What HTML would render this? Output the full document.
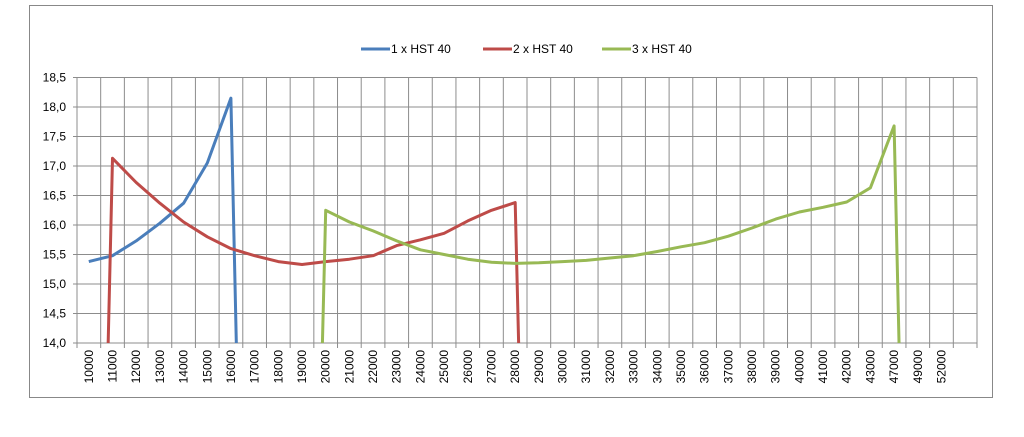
<!DOCTYPE html>
<html><head><meta charset="utf-8"><style>
html,body{margin:0;padding:0;background:#fff;width:1024px;height:437px;overflow:hidden;font-family:"Liberation Sans",sans-serif}
svg{display:block;overflow:hidden}
svg text{font-family:"Liberation Sans",sans-serif;font-size:12px;fill:#000}
</style></head><body>
<svg width="1024" height="437">
<rect x="29.5" y="5.5" width="963" height="392" fill="#fff" stroke="#888"/>
<g id="grid"></g>
<g id="series"></g>
<g id="axes"></g>
<g id="legend"></g>
</svg>
<script>
const categories=["10000","11000","12000","13000","14000","15000","16000","17000","18000","19000","20000","21000","22000","23000","24000","25000","26000","27000","28000","29000","30000","31000","32000","33000","34000","35000","36000","37000","38000","39000","40000","41000","42000","43000","47000","49000","52000",""];
const seriesNames=["1 x HST 40","2 x HST 40","3 x HST 40"];
const seriesColors=["#4a7ebb","#be4b48","#98b954"];
const blue=[15.38,15.48,15.73,16.03,16.37,17.05,18.15,0];
const red=[0,17.13,16.72,16.37,16.05,15.8,15.6,15.48,15.38,15.33,15.38,15.42,15.48,15.65,15.75,15.86,16.07,16.25,16.38,0];
const green=[null,null,null,null,null,null,null,null,null,0,16.25,16.05,15.9,15.73,15.58,15.5,15.42,15.37,15.35,15.36,15.38,15.4,15.44,15.48,15.55,15.63,15.7,15.81,15.95,16.1,16.22,16.3,16.39,16.63,17.68,0];
const yTicks=[14.0,14.5,15.0,15.5,16.0,16.5,17.0,17.5,18.0,18.5];
const NS="http://www.w3.org/2000/svg";
const L=77,R=977,T=77.5,B=343,yMin=14,yMax=18.5;
const cw=(R-L)/categories.length;
const xPos=i=>L+(i+0.5)*cw;
const yPos=v=>B-(v-yMin)/(yMax-yMin)*(B-T);
function mk(tag,attrs,parent){const e=document.createElementNS(NS,tag);for(const k in attrs)e.setAttribute(k,attrs[k]);parent.appendChild(e);return e;}
const grid=document.getElementById('grid'),axes=document.getElementById('axes'),ser=document.getElementById('series'),leg=document.getElementById('legend');
for(let i=0;i<=categories.length;i++){const x=L+i*cw;const l=mk('line',{x1:x,x2:x,y1:T,y2:B+5,stroke:'#8c8c8c','stroke-width':1},grid);

}
yTicks.forEach(v=>{const y=yPos(v);const l=mk('line',{x1:L-4,x2:R,y1:y,y2:y,stroke:'#8c8c8c','stroke-width':1},grid);


const t=mk('text',{x:L-11,y:y+4,'text-anchor':'end'},axes);t.textContent=v.toFixed(1).replace('.',',');

});
categories.forEach((c,i)=>{if(!c)return;const x=xPos(i)+4;const t=mk('text',{x:0,y:0,'text-anchor':'end',transform:`translate(${x},${B+7}) rotate(-90)`},axes);t.textContent=c;

});
const clip=mk('clipPath',{id:'pc'},ser);mk('rect',{x:L,y:T-10,width:R-L,height:B-T+10},clip);
[blue,red,green].forEach((arr,s)=>{let d='';let started=false;arr.forEach((v,i)=>{if(v==null){started=false;return;}d+=(started?'L':'M')+xPos(i).toFixed(1)+','+yPos(v).toFixed(1);started=true;});
const p=mk('path',{d:d,fill:'none',stroke:seriesColors[s],'stroke-width':3,'stroke-linejoin':'round','clip-path':'url(#pc)'},ser);

});
const lx=[361,483,602];
seriesNames.forEach((n,s)=>{const g=mk('g',{},leg);


mk('line',{x1:lx[s],x2:lx[s]+29,y1:49,y2:49,stroke:seriesColors[s],'stroke-width':3},g);
const t=mk('text',{x:lx[s]+30,y:53},g);t.textContent=n;});
</script>
</body></html>
